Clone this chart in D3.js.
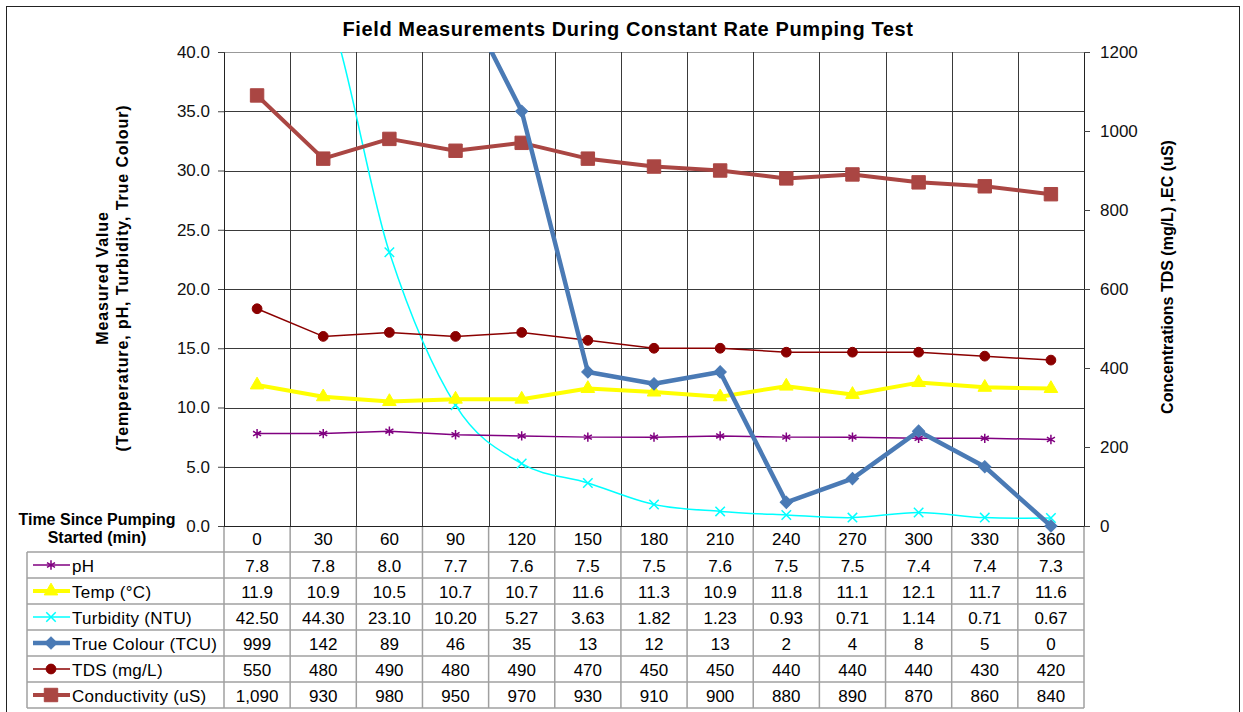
<!DOCTYPE html>
<html>
<head>
<meta charset="utf-8">
<script src="https://cdn.jsdelivr.net/npm/d3@7"></script>
<style>
  body { margin: 0; background: #fff; }
  text { font-family: "Liberation Sans", Arial, sans-serif; }
</style>
</head>
<body>
<script>
var times = [0, 30, 60, 90, 120, 150, 180, 210, 240, 270, 300, 330, 360];
var ph = [7.8, 7.8, 8.0, 7.7, 7.6, 7.5, 7.5, 7.6, 7.5, 7.5, 7.4, 7.4, 7.3];
var temp = [11.9, 10.9, 10.5, 10.7, 10.7, 11.6, 11.3, 10.9, 11.8, 11.1, 12.1, 11.7, 11.6];
var turbidity = [42.50, 44.30, 23.10, 10.20, 5.27, 3.63, 1.82, 1.23, 0.93, 0.71, 1.14, 0.71, 0.67];
var trueColour = [999, 142, 89, 46, 35, 13, 12, 13, 2, 4, 8, 5, 0];
var tds = [550, 480, 490, 480, 490, 470, 450, 450, 440, 440, 440, 430, 420];
var conductivity = [1090, 930, 980, 950, 970, 930, 910, 900, 880, 890, 870, 860, 840];
var leftTicks = [0, 5, 10, 15, 20, 25, 30, 35, 40];
var rightTicks = [0, 200, 400, 600, 800, 1000, 1200];

//Series definitions (table row order)
var series = [
  {name: "pH", values: ph, axis: "left", color: "#800080", width: 1.5, symbol: d3.symbolAsterisk, size: 60, stroke: true, fmt: d3.format(".1f")},
  {name: "Temp (\u00B0C)", values: temp, axis: "left", color: "#ffff00", width: 4, symbol: d3.symbolTriangle, size: 80, fmt: d3.format(".1f")},
  {name: "Turbidity (NTU)", values: turbidity, axis: "left", color: "#00ffff", width: 1.5, symbol: d3.symbolX, size: 60, stroke: true, smooth: true, fmt: d3.format(".2f")},
  {name: "True Colour (TCU)", values: trueColour, axis: "left", color: "#4a7ab5", width: 4.5, symbol: d3.symbolSquare, rotate: 45, size: 75, fmt: d3.format("d")},
  {name: "TDS (mg/L)", values: tds, axis: "right", color: "#8b0000", width: 1.5, symbol: d3.symbolCircle, size: 75, fmt: d3.format("d")},
  {name: "Conductivity (uS)", values: conductivity, axis: "right", color: "#aa4643", width: 4, symbol: d3.symbolSquare, size: 180, fmt: d3.format(",d")}
];

var W = 1243, H = 712;
var plot = {left: 224, right: 1084, top: 52, bottom: 526};
var rowH = 26;
var fs = "17px";

var svg = d3.select("body").append("svg")
    .attr("width", W)
    .attr("height", H);

//Outer chart border
svg.append("rect")
    .attr("x", 6.5).attr("y", 6.5)
    .attr("width", 1233).attr("height", 712)
    .attr("fill", "none").attr("stroke", "#222").attr("stroke-width", 1);

//Scales
var x = d3.scaleBand()
    .domain(times)
    .range([plot.left, plot.right])
    .padding(0);
var yL = d3.scaleLinear().domain([0, 40]).range([plot.bottom, plot.top]);
var yR = d3.scaleLinear().domain([0, 1200]).range([plot.bottom, plot.top]);
function cx(t) { return x(t) + x.bandwidth() / 2; }

//Title
svg.append("text")
    .attr("x", 628).attr("y", 36)
    .attr("text-anchor", "middle")
    .style("font-size", "20px").style("font-weight", "bold")
    .style("letter-spacing", "0.6px")
    .text("Field Measurements During Constant Rate Pumping Test");

//Horizontal gridlines
svg.append("g").selectAll("line")
    .data(leftTicks.slice(1))
    .enter().append("line")
    .attr("x1", plot.left).attr("x2", plot.right)
    .attr("y1", function(d) { return Math.round(yL(d)) + 0.5; })
    .attr("y2", function(d) { return Math.round(yL(d)) + 0.5; })
    .attr("stroke", function(d) { return d == 40 ? "#999" : "#3a3a3a"; })
    .attr("stroke-width", 1);

//Vertical gridlines in the plot
var tableBottom = plot.bottom + rowH * 7;
svg.append("g").selectAll("line")
    .data(times.slice(1))
    .enter().append("line")
    .attr("x1", function(d) { return Math.round(x(d)) + 0.5; })
    .attr("x2", function(d) { return Math.round(x(d)) + 0.5; })
    .attr("y1", plot.top).attr("y2", plot.bottom)
    .attr("stroke", "#3a3a3a");

//Table grid lines
var tg = svg.append("g").attr("stroke", "#a0a0a0").attr("stroke-width", 1.5);
var bounds = times.map(function(d) { return x(d); }).concat([plot.right]);
tg.selectAll("line.v")
    .data(bounds)
    .enter().append("line")
    .attr("x1", function(d) { return d; }).attr("x2", function(d) { return d; })
    .attr("y1", plot.bottom).attr("y2", tableBottom);
tg.append("line")
    .attr("x1", 27).attr("x2", 27)
    .attr("y1", plot.bottom + rowH).attr("y2", tableBottom);
tg.selectAll("line.h")
    .data(d3.range(1, 8))
    .enter().append("line")
    .attr("x1", 27).attr("x2", plot.right)
    .attr("y1", function(i) { return plot.bottom + rowH * i; })
    .attr("y2", function(i) { return plot.bottom + rowH * i; });

//Left axis
var axL = svg.append("g")
    .attr("transform", "translate(" + plot.left + ",0)")
    .call(d3.axisLeft(yL).tickValues(leftTicks).tickFormat(d3.format(".1f")).tickSize(6).tickPadding(8));
//Right axis
var axR = svg.append("g")
    .attr("transform", "translate(" + plot.right + ",0)")
    .call(d3.axisRight(yR).tickValues(rightTicks).tickFormat(d3.format("d")).tickSize(6).tickPadding(10));
[axL, axR].forEach(function(a) {
  a.select(".domain").attr("stroke", "#222");
  a.selectAll(".tick line").attr("stroke", "#444");
  a.selectAll("text").style("font-size", fs).attr("fill", "#111")
      .style("font-family", "'Liberation Sans', Arial, sans-serif");
});
//X axis line
svg.append("line")
    .attr("x1", plot.left).attr("x2", plot.right)
    .attr("y1", plot.bottom + 0.5).attr("y2", plot.bottom + 0.5)
    .attr("stroke", "#222");

//Axis titles
svg.append("text")
    .attr("transform", "translate(108,278) rotate(-90)")
    .attr("text-anchor", "middle")
    .style("font-size", "16px").style("font-weight", "bold")
    .style("letter-spacing", "0.9px")
    .selectAll("tspan")
    .data(["Measured Value", "(Temperature, pH, Turbidity, True Colour)"])
    .enter().append("tspan")
    .attr("x", 0).attr("dy", function(d, i) { return i ? 20 : 0; })
    .text(function(d) { return d; });
svg.append("text")
    .attr("transform", "translate(1173,277) rotate(-90)")
    .attr("text-anchor", "middle")
    .style("font-size", "16px").style("font-weight", "bold")
    .text("Concentrations TDS (mg/L) ,EC (uS)");

//Clip path for the plot area
svg.append("clipPath").attr("id", "clip")
  .append("rect")
    .attr("x", plot.left).attr("y", plot.top)
    .attr("width", plot.right - plot.left).attr("height", plot.bottom - plot.top + 8);

var lines = svg.append("g").attr("clip-path", "url(#clip)");

function drawMarker(g, s) {
  var sym = d3.symbol().type(s.symbol).size(s.size);
  g.attr("d", sym)
    .attr("fill", s.stroke ? "none" : s.color)
    .attr("stroke", s.color)
    .attr("stroke-width", s.stroke ? 1.5 : 1);
}
function place(px, py, s) {
  return "translate(" + px + "," + py + ")" + (s.rotate ? " rotate(" + s.rotate + ")" : "");
}

//Draw series, back to front as in the original
[2, 0, 1, 4, 5, 3].forEach(function(k) {
  var s = series[k];
  var y = s.axis == "left" ? yL : yR;
  var line = d3.line()
      .x(function(d, i) { return cx(times[i]); })
      .y(function(d) { return y(d); })
      .curve(s.smooth ? d3.curveCatmullRom.alpha(0) : d3.curveLinear);
  lines.append("path")
      .datum(s.values)
      .attr("d", line)
      .attr("fill", "none")
      .attr("stroke", s.color)
      .attr("stroke-width", s.width)
      .attr("stroke-linejoin", "round");
  lines.append("g").selectAll("path")
      .data(s.values)
      .enter().append("path")
      .attr("transform", function(d, i) { return place(cx(times[i]), y(d), s); })
      .each(function() { drawMarker(d3.select(this), s); });
});

//Table: category header row
svg.append("g").selectAll("text")
    .data(times)
    .enter().append("text")
    .attr("x", function(d) { return cx(d); })
    .attr("y", plot.bottom + 19)
    .attr("text-anchor", "middle")
    .style("font-size", fs)
    .text(function(d) { return d; });

svg.append("text")
    .attr("text-anchor", "middle")
    .style("font-size", "16px").style("font-weight", "bold")
    .selectAll("tspan")
    .data(["Time Since Pumping", "Started (min)"])
    .enter().append("tspan")
    .attr("x", 97).attr("y", function(d, i) { return 525 + i * 18; })
    .text(function(d) { return d; });

//Table: value rows with legend keys
series.forEach(function(s, r) {
  var rowY = plot.bottom + rowH * (r + 1);
  var g = svg.append("g");
  g.append("line")
      .attr("x1", 33).attr("x2", 70)
      .attr("y1", rowY + rowH / 2).attr("y2", rowY + rowH / 2)
      .attr("stroke", s.color).attr("stroke-width", s.width);
  g.append("path")
      .attr("transform", place(51, rowY + rowH / 2, s))
      .call(drawMarker, s);
  g.append("text")
      .attr("x", 72).attr("y", rowY + 19.5)
      .style("font-size", fs)
      .style("letter-spacing", "0.3px")
      .text(s.name);
  g.selectAll("text.v")
      .data(s.values)
      .enter().append("text")
      .attr("x", function(d, i) { return cx(times[i]); })
      .attr("y", rowY + 19.5)
      .attr("text-anchor", "middle")
      .style("font-size", fs)
      .text(function(d) { return s.fmt(d); });
});
</script>
</body>
</html>
